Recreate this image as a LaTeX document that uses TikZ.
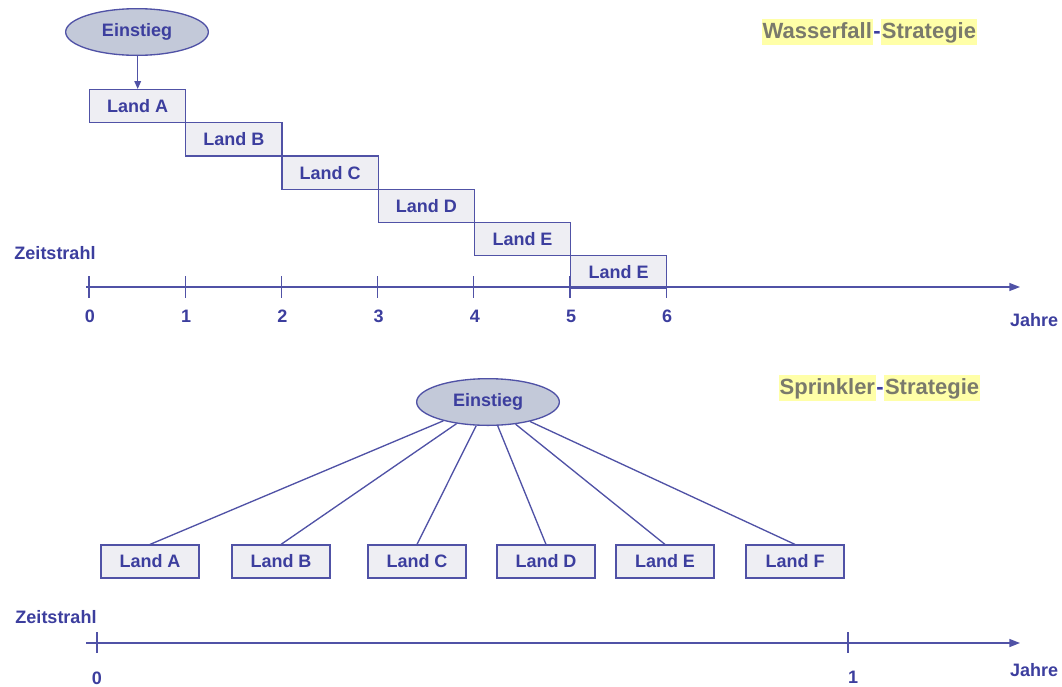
\documentclass[tikz,border=0pt]{standalone}
\usepackage{fontspec}
\setmainfont{Liberation Sans}
\usetikzlibrary{shapes.geometric,arrows.meta}
\definecolor{ink}{HTML}{3C3E9E}
\definecolor{edge}{HTML}{5052A6}
\definecolor{ovalfill}{HTML}{C3C9D9}
\definecolor{boxfill}{HTML}{EEEEF3}
\definecolor{hl}{HTML}{FFFFA8}
\definecolor{titlegrey}{HTML}{7A7A6C}
\begin{document}
\begin{tikzpicture}[x=0.75pt,y=-0.75pt,
  lbl/.style={font=\fontsize{13.5}{16}\selectfont\bfseries, text=ink},
  oval/.style={ellipse, draw=edge, fill=ovalfill, line width=1pt,
    minimum width=107pt, minimum height=35pt, inner sep=0pt, lbl},
  stair/.style={rectangle, draw=edge, fill=boxfill, line width=0.9pt,
    minimum width=72.15pt, minimum height=24.9pt, inner sep=0pt,
    anchor=north west, lbl},
  land/.style={rectangle, draw=edge, fill=boxfill, line width=0.9pt,
    minimum width=73.5pt, minimum height=24.75pt, inner sep=0pt, lbl},
  axis/.style={draw=edge, line width=1pt, -{Triangle[length=8pt,width=6pt]}},
  tickmark/.style={draw=edge, line width=1pt},
  link/.style={draw=edge, line width=1pt},
  title/.style={font=\fontsize{16.5}{19}\selectfont\bfseries, text=titlegrey,
    fill=hl, inner xsep=0.5pt, inner ysep=2pt, outer sep=0pt,
    text height=12pt, text depth=3.5pt, anchor=base west},
  hyphen/.style={font=\fontsize{16.5}{19}\selectfont\bfseries, text=ink,
    inner xsep=0.5pt, outer sep=0pt, anchor=base west}]
\useasboundingbox (0,0) rectangle (1062,686);

% ---------- Wasserfall-Strategie ----------
\node[title] (w1) at (762,38) {Wasserfall};
\node[hyphen] (w2) at (w1.base east) {-};
\node[title] (w3) at (w2.base east) {Strategie};

\node[oval] (e1) at (137,32) {Einstieg};

\foreach \i/\t in {0/Land A,1/Land B,2/Land C,3/Land D,4/Land E,5/Land E}
  \node[stair] (s\i) at ({89+96.2*\i},{89+33.2*\i}) {\t};

% vertical entry arrow into the first country
\draw[link,-{Triangle[length=6pt,width=5pt]}] (s0.north |- e1.south) -- (s0.north);

\node[lbl] (z1) at (55,253) {Zeitstrahl};
\coordinate (a1s) at (86,287);
\coordinate (a1e) at (1020,287);
\draw[axis] (a1s) -- (a1e);
\foreach \i in {0,...,6}{
  \coordinate (tt\i) at ({89+96.2*\i},276);
  \coordinate (tb\i) at ({89+96.2*\i},298);
  \draw[tickmark] (tt\i) -- (tb\i);
  \node[lbl] (n\i) at ({90+96.2*\i},316) {\i};
}
\node[lbl] (j1) at (1034,320) {Jahre};

% ---------- Sprinkler-Strategie ----------
\node[title] (p1) at (779,394) {Sprinkler};
\node[hyphen] (p2) at (p1.base east) {-};
\node[title] (p3) at (p2.base east) {Strategie};

\node[oval] (e2) at (488,402) {Einstieg};

\foreach \i/\x/\t in {0/150/Land A,1/281/Land B,2/417/Land C,3/546/Land D,4/665/Land E,5/795/Land F}{
  \node[land] (b\i) at (\x,561.5) {\t};
  \draw[link] (e2) -- (b\i.north);
}

\node[lbl] (z2) at (56,617) {Zeitstrahl};
\coordinate (a2s) at (86,643);
\coordinate (a2e) at (1020,643);
\draw[axis] (a2s) -- (a2e);
\coordinate (u0t) at (97,632);
\coordinate (u0b) at (97,653);
\coordinate (u1t) at (848,632);
\coordinate (u1b) at (848,653);
\draw[tickmark] (u0t) -- (u0b);
\draw[tickmark] (u1t) -- (u1b);
\node[lbl] (m0) at (97,678) {0};
\node[lbl] (m1) at (853,677) {1};
\node[lbl] (j2) at (1034,670) {Jahre};
\end{tikzpicture}
\end{document}
